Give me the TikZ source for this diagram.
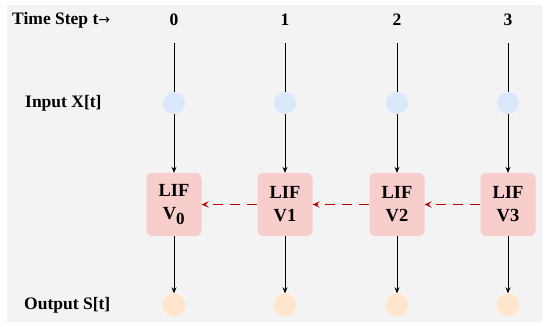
\documentclass[tikz,border=0pt]{standalone}
\usepackage{fontspec}
\setmainfont{Liberation Serif}
\newfontfamily\arrowfont{DejaVu Sans}
\usetikzlibrary{arrows.meta}
\definecolor{panelGray}{RGB}{243,243,243}
\definecolor{lifPink}{RGB}{248,206,204}
\definecolor{inBlue}{RGB}{218,232,252}
\definecolor{outPeach}{RGB}{255,230,204}
\definecolor{leakRed}{RGB}{190,0,0}
\tikzset{
  lifbox/.style={rounded corners=5pt,fill=lifPink,minimum width=55pt,minimum height=63pt,inner sep=0pt,align=center,font=\bfseries\fontsize{18.5}{23}\selectfont},
  spikein/.style={circle,fill=inBlue,minimum size=22pt,inner sep=0pt},
  spikeout/.style={circle,fill=outPeach,minimum size=23pt,inner sep=0pt},
  rowlabel/.style={anchor=west,inner sep=0pt,font=\bfseries\fontsize{17.5}{20}\selectfont},
  flow/.style={-{Stealth[length=6pt,width=5pt]},line width=0.8pt},
  leak/.style={-{Stealth[length=7pt,width=6.5pt,inset=3pt]},draw=leakRed,line width=1pt,dash pattern=on 10pt off 7pt}
}

\begin{document}
\begin{tikzpicture}[x=1pt,y=-1pt]
\useasboundingbox (0,0) rectangle (550,327);
\fill[panelGray] (7,5) rectangle (542,322);
% row labels
\node[rowlabel] (steplabel) at (12,20) {Time Step t{\arrowfont\mdseries\fontsize{14}{14}\selectfont →}};
\node[rowlabel] (inlabel) at (25,103) {Input X[t]};
\node[rowlabel] (outlabel) at (24,305) {Output S[t]};
% one column per time step
\foreach \t/\x/\v in {0/174/V\textsubscript{\fontsize{17}{17}\selectfont 0},1/285/V1,2/397/V2,3/508/V3}{
  \node[font=\bfseries\fontsize{17.5}{20}\selectfont] (step\t) at (\x,20) {\t};
  \coordinate (top\t) at (\x,43);
  \node[spikein] (in\t) at (\x,103) {};
  \node[lifbox] (lif\t) at (\x,204.5) {LIF\\\v};
  \node[spikeout] (out\t) at (\x,305) {};
  \draw[line width=0.8pt] (top\t) -- (in\t);
  \draw[flow] (in\t) -- (lif\t);
  \draw[flow] (lif\t) -- (out\t);
}
% leak back in time
\draw[leak] (lif3) -- (lif2);
\draw[leak] (lif2) -- (lif1);
\draw[leak] (lif1) -- (lif0);
\end{tikzpicture}
\end{document}
